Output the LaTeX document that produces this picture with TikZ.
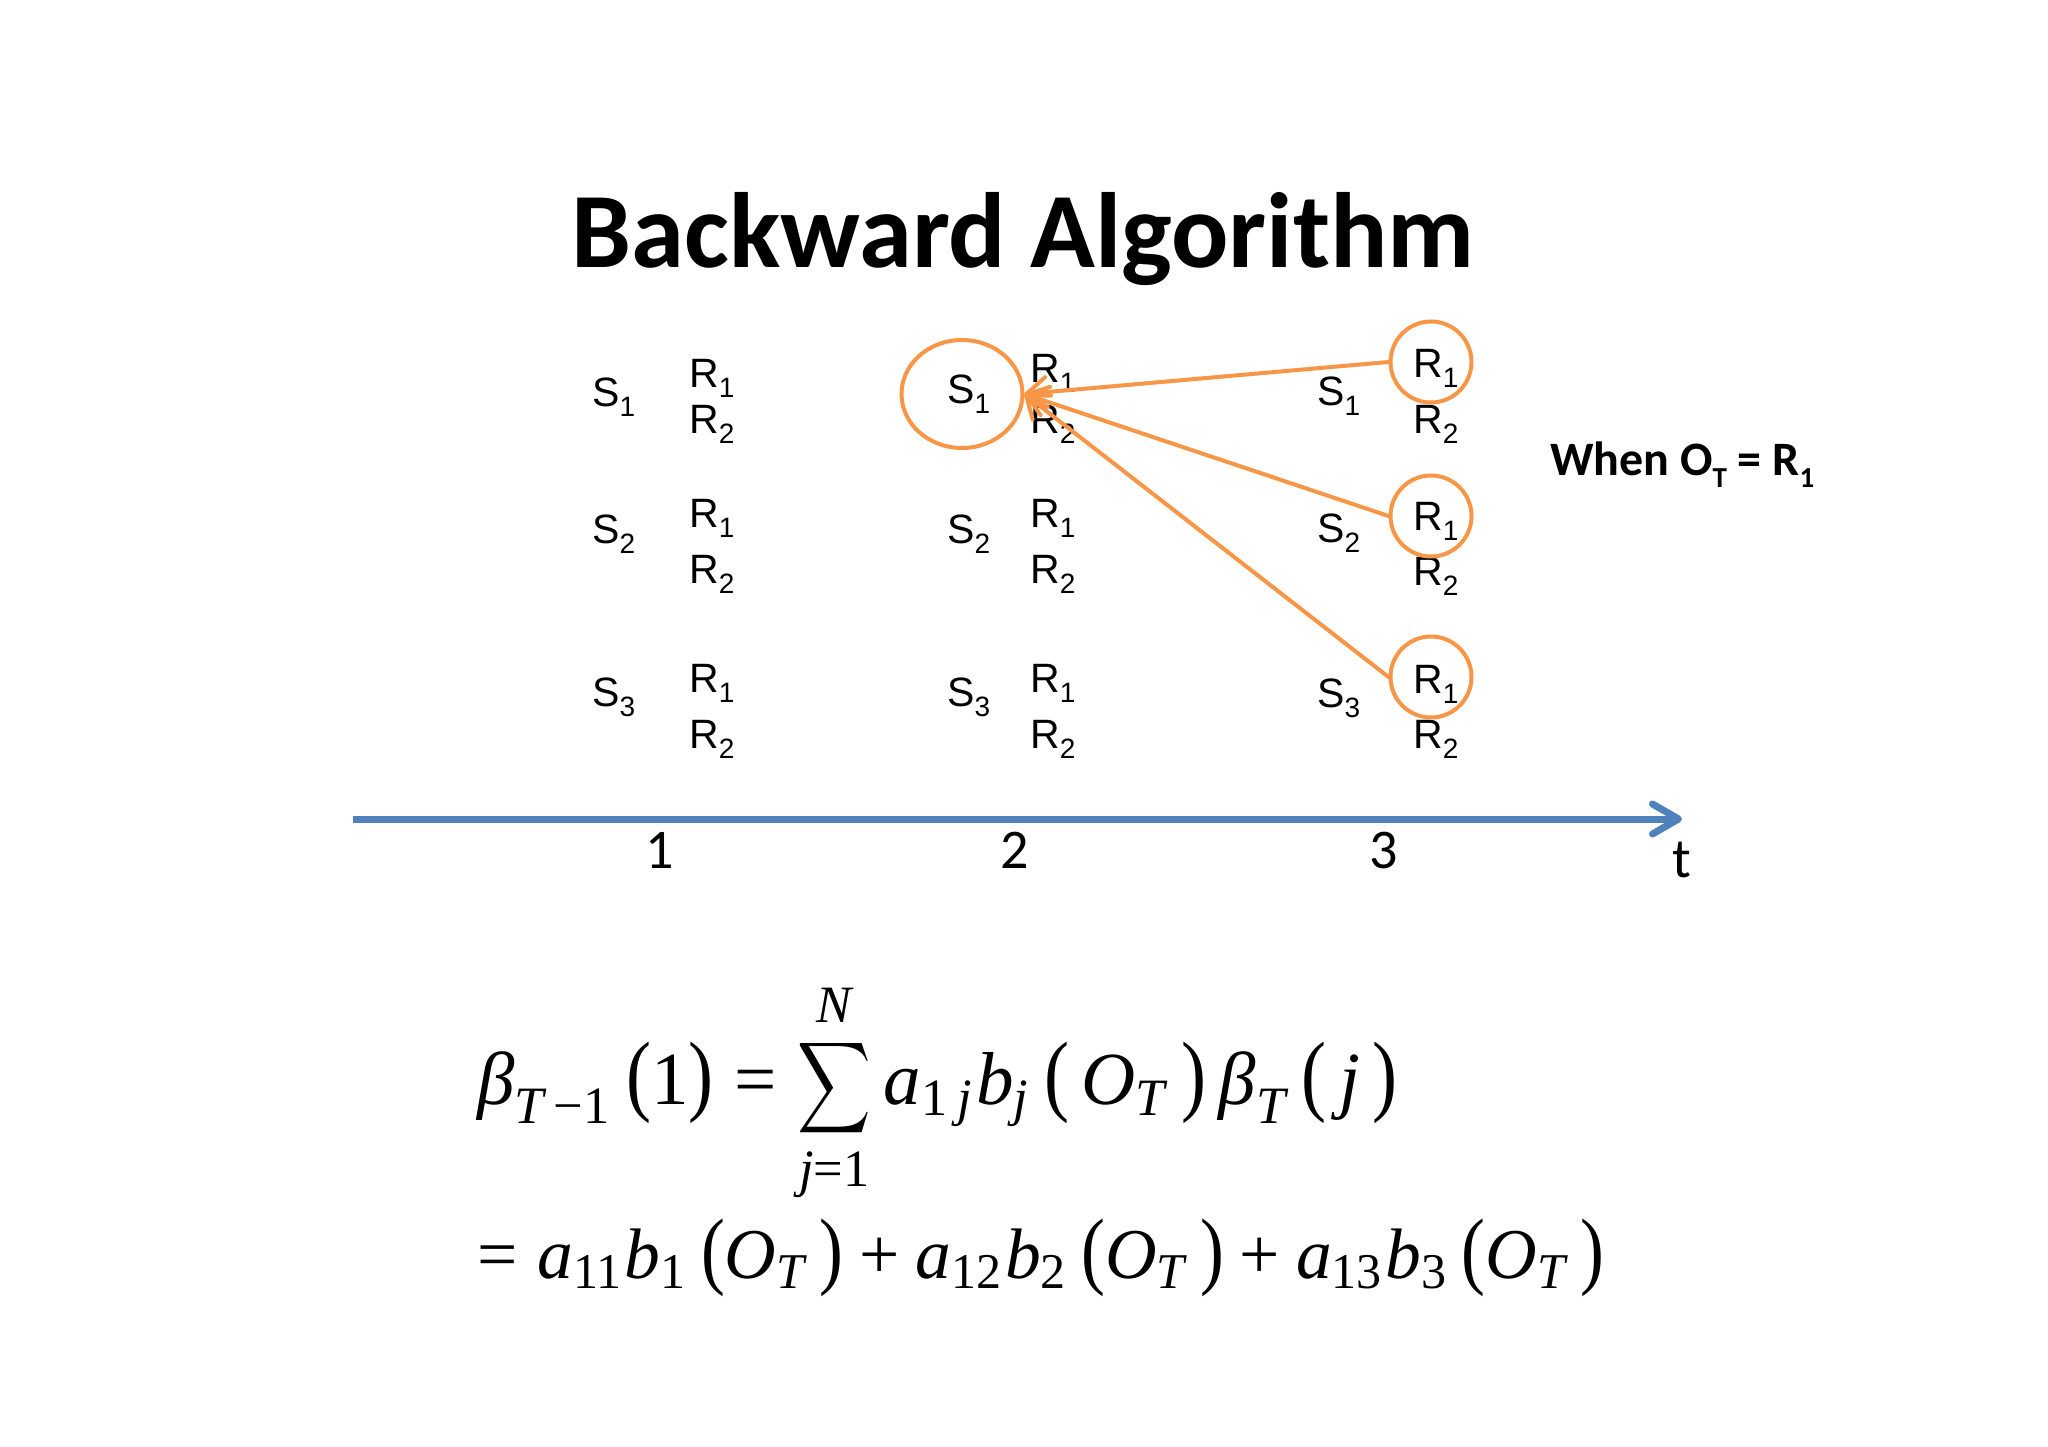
\documentclass[tikz,border=0pt]{standalone}
\usepackage{amsmath}
\usepackage{graphicx}
\usepackage{fontspec}
\setmainfont{Liberation Serif}
\newfontfamily\calibrifont{Carlito}
\newfontfamily\arialfont{Liberation Sans}
\usetikzlibrary{arrows.meta,shapes.geometric}
\definecolor{orng}{HTML}{F79646}
\definecolor{axblue}{HTML}{4F81BD}
\newcommand\gsub[1]{\raisebox{-10pt}{\fontsize{28}{28}\selectfont #1}}
\newcommand\wsub[1]{\raisebox{-12pt}{\fontsize{29}{29}\selectfont #1}}
\newcommand\mi[1]{\text{\itshape #1}}
\newcommand\up[1]{\text{\upshape #1}}
\newcommand\lp{\text{\upshape\scalebox{1}[1.2]{(}}}
\newcommand\rp{\text{\upshape\scalebox{1}[1.2]{)}}}
\newcommand\teq{\mathrel{\text{\upshape =}}}
\newcommand\tplus{\mathbin{\text{\upshape +}}}
\newcommand\tsum{\mathop{\scalebox{0.68}[0.85]{$\displaystyle\sum$}}\limits}
\tikzset{
  lbl/.style={inner sep=0pt, anchor=base west, font=\arialfont\fontsize{41}{41}\selectfont},
  ocirc/.style={circle, draw=orng, line width=4pt, minimum size=81pt, inner sep=0pt},
  oell/.style={ellipse, draw=orng, line width=4pt, minimum width=121pt, minimum height=108pt, inner sep=0pt},
  oarrow/.style={draw=orng, line width=4pt, line cap=round, -{Straight Barb[length=20pt,width=30pt,round]}},
  taxis/.style={draw=axblue, line width=7pt, -{Straight Barb[length=26pt,width=30pt,round]}},
  numlbl/.style={inner sep=0pt, anchor=base, font=\calibrifont\fontsize{56}{56}\selectfont},
  formula/.style={inner sep=0pt, anchor=base west}
}
\begin{document}
\begin{tikzpicture}[x=1pt,y=-1pt]
\useasboundingbox (0,0) rectangle (2048,1447);
\fill[white] (0,0) rectangle (2048,1447);

% title
\node[inner sep=0pt, anchor=base, font=\calibrifont\bfseries\fontsize{107}{107}\selectfont] (title) at (1023,268) {Backward Algorithm};

% column 1
\node[lbl] (s11) at (592,406) {S\gsub{1}};
\node[lbl] (r111) at (689,387) {R\gsub{1}};
\node[lbl] (r112) at (689,433) {R\gsub{2}};
\node[lbl] (s12) at (592,543) {S\gsub{2}};
\node[lbl] (r121) at (689,527) {R\gsub{1}};
\node[lbl] (r122) at (689,583) {R\gsub{2}};
\node[lbl] (s13) at (592,706) {S\gsub{3}};
\node[lbl] (r131) at (689,692) {R\gsub{1}};
\node[lbl] (r132) at (689,748) {R\gsub{2}};

% column 2
\node[lbl] (s21) at (947,403) {S\gsub{1}};
\node[lbl] (r211) at (1030,382) {R\gsub{1}};
\node[lbl] (r212) at (1030,433) {R\gsub{2}};
\node[lbl] (s22) at (947,543) {S\gsub{2}};
\node[lbl] (r221) at (1030,527) {R\gsub{1}};
\node[lbl] (r222) at (1030,583) {R\gsub{2}};
\node[lbl] (s23) at (947,706) {S\gsub{3}};
\node[lbl] (r231) at (1030,692) {R\gsub{1}};
\node[lbl] (r232) at (1030,748) {R\gsub{2}};

% column 3
\node[lbl] (s31) at (1317,405) {S\gsub{1}};
\node[lbl] (r311) at (1413,377) {R\gsub{1}};
\node[lbl] (r312) at (1413,433) {R\gsub{2}};
\node[lbl] (s32) at (1317,542) {S\gsub{2}};
\node[lbl] (r321) at (1413,530) {R\gsub{1}};
\node[lbl] (r322) at (1413,585) {R\gsub{2}};
\node[lbl] (s33) at (1317,707) {S\gsub{3}};
\node[lbl] (r331) at (1413,693) {R\gsub{1}};
\node[lbl] (r332) at (1413,748) {R\gsub{2}};

% highlights
\node[oell] (e) at (962,394) {};
\node[ocirc] (c1) at (1431,362) {};
\node[ocirc] (c2) at (1431,516) {};
\node[ocirc] (c3) at (1431,677) {};
\draw[oarrow] (c1.west) -- (e.east);
\draw[oarrow] (c2.west) -- (e.east);
\draw[oarrow] (c3.west) -- (e.east);

% condition
\node[inner sep=0pt, anchor=base west, font=\calibrifont\bfseries\fontsize{48}{48}\selectfont] (when) at (1550,475) {When O\wsub{T} = R\wsub{1}};

% time axis
\coordinate (ax0) at (353,819);
\coordinate (ax1) at (1682,819);
\draw[taxis] (ax0) -- (ax1);
\node[numlbl] (n1) at (660,868) {1};
\node[numlbl] (n2) at (1015,868) {2};
\node[numlbl] (n3) at (1384,868) {3};
\node[numlbl] (nt) at (1682,877) {t};

% formulas
\node[formula] (f1) at (477,1104) {\scalebox{7.5}{$\displaystyle \mi{β}_{\mi{T}\,\up{−}\up{1}}\,\lp\up{1}\rp \teq \tsum_{\mi{j}\up{=}\up{1}}^{\mi{N}} \mi{a}_{\up{1}\,\mi{j}}\mi{b}_{\mi{j}}\,\lp\,\mi{O}_{\mi{T}}\,\rp\,\mi{β}_{\mi{T}}\,\lp\,\mi{j}\,\rp$}};
\node[formula] (f2) at (477,1278) {\scalebox{7.15}{$\displaystyle \teq \mi{a}_{\up{11}}\mi{b}_{\up{1}}\,\lp\mi{O}_{\mi{T}}\,\rp \tplus \mi{a}_{\up{12}}\mi{b}_{\up{2}}\,\lp\mi{O}_{\mi{T}}\,\rp \tplus \mi{a}_{\up{13}}\mi{b}_{\up{3}}\,\lp\mi{O}_{\mi{T}}\,\rp$}};
\end{tikzpicture}
\end{document}
